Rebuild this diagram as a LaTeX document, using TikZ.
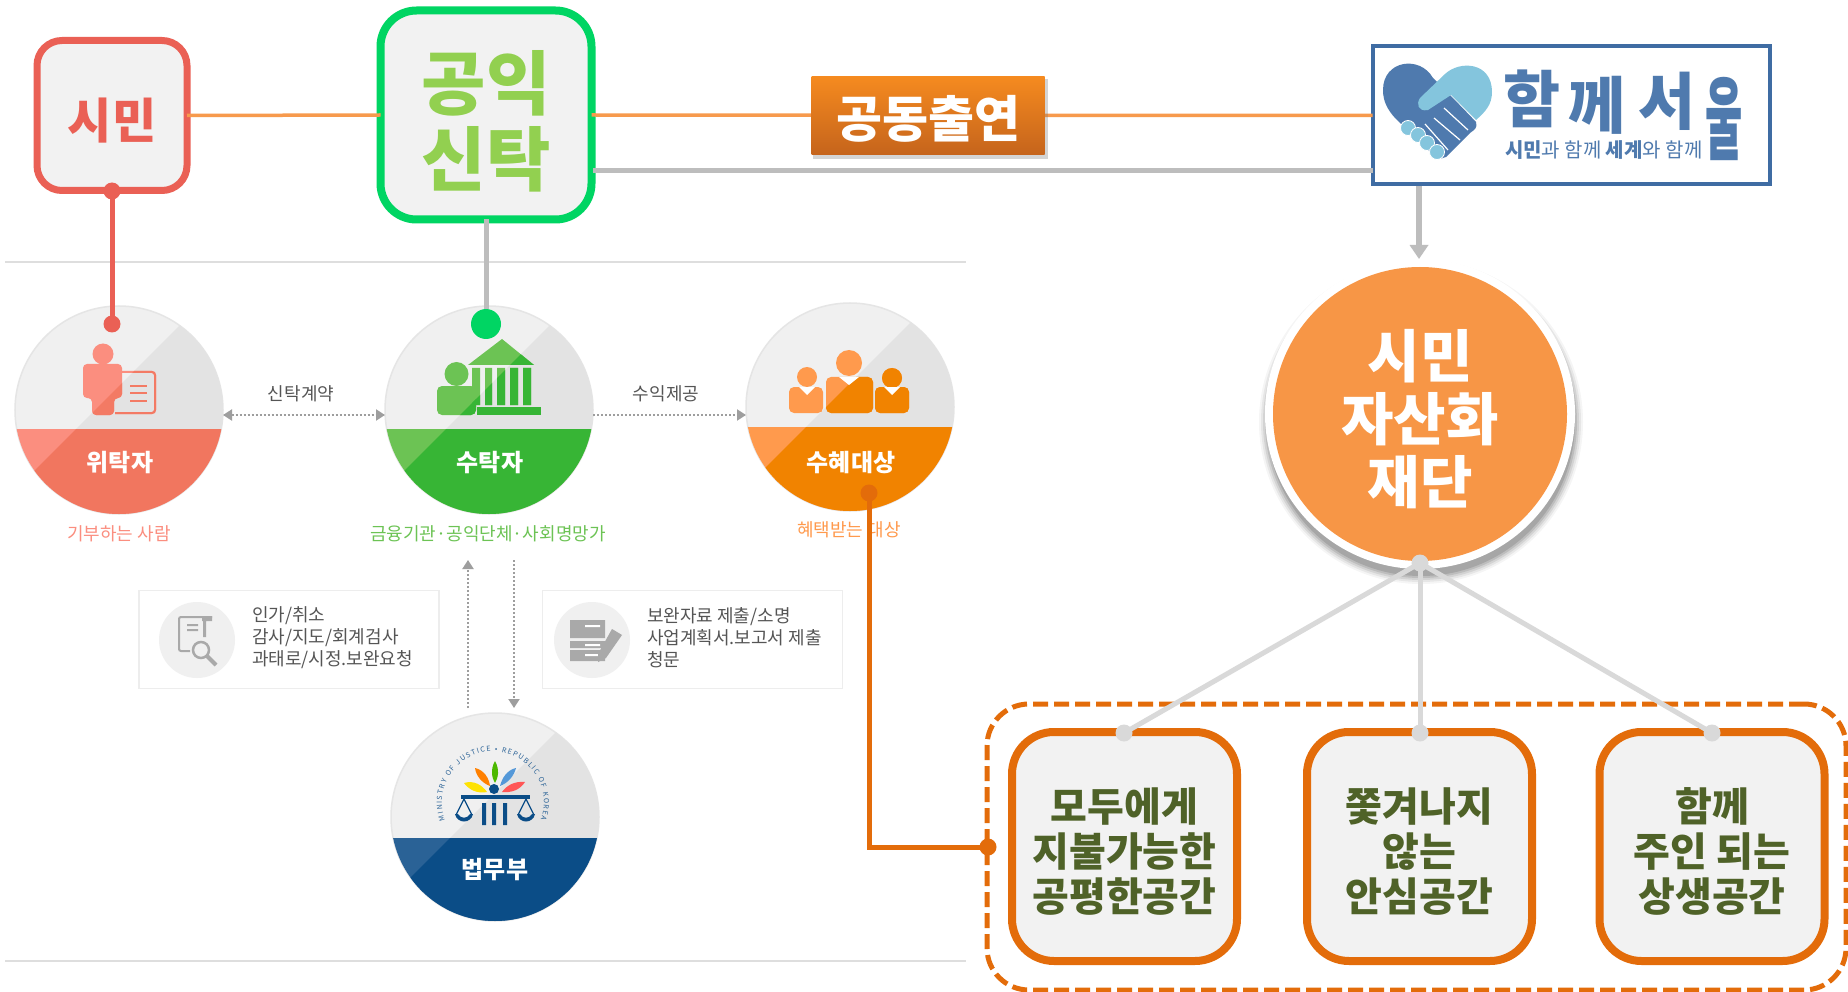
\documentclass[tikz,border=0pt]{standalone}
\usepackage{fontspec}
\setmainfont{Noto Sans CJK KR}
\usetikzlibrary{arrows.meta,decorations.text,shadings}
\definecolor{cred}{HTML}{EA6055}
\definecolor{cgreen}{HTML}{00D563}
\definecolor{corange}{HTML}{E36C0A}
\definecolor{cline}{HTML}{F79A4D}
\definecolor{cgray}{HTML}{BDBDBD}
\definecolor{cpale}{HTML}{D9D9D9}
\definecolor{cbox}{HTML}{F2F2F2}
\definecolor{cbig}{HTML}{F79646}
\definecolor{colive}{HTML}{4F6228}
\definecolor{csoft}{HTML}{92D050}
\definecolor{clogo}{HTML}{3F6CA3}
\definecolor{clogob}{HTML}{4F7AAE}
\definecolor{clogol}{HTML}{84C5DD}
\definecolor{rl}{HTML}{FB8E7F}\definecolor{rd}{HTML}{F1765F}
\definecolor{gl}{HTML}{6CC354}\definecolor{gd}{HTML}{37B535}
\definecolor{ol}{HTML}{FF9A4D}\definecolor{od}{HTML}{F18300}
\definecolor{bl}{HTML}{2A6296}\definecolor{bd}{HTML}{0B4D87}
\definecolor{ctxt}{HTML}{555555}
\definecolor{cicon}{HTML}{A9A9A9}
\definecolor{ctop}{HTML}{F58A1F}
\definecolor{cbot}{HTML}{C5641C}
\newcommand{\fsz}[2]{\fontsize{#1}{#2}\selectfont}
\tikzset{
  x=1pt,y=-1pt,
  every node/.style={inner sep=0pt,outer sep=0pt},
  badgecircle/.style={circle,minimum size=208,draw=black!10,line width=1.5pt},
  bandtext/.style={text=white,font=\fsz{24}{28}\bfseries},
  linktext/.style={text=ctxt,font=\fsz{18}{22}},
  infotext/.style={text=ctxt,font=\fsz{18}{22},align=left,anchor=west},
  sublabel/.style={font=\fsz{18}{22}},
  goalbox/.style={draw=corange,line width=8pt,fill=cbox,rounded corners=42pt,minimum width=225,minimum height=229},
  goaltext/.style={text=colive,font=\fsz{40}{45}\bfseries,align=center},
  topbox/.style={fill=cbox},
  infobox/.style={draw=black!7,line width=1.5pt,fill=white,minimum width=300,minimum height=98},
  infocirc/.style={circle,fill=black!6,minimum size=76},
  dotarrow/.style={dash pattern=on 2pt off 2pt,line width=2pt,draw=black!38,{Triangle[length=9pt,width=11pt,fill=black!38]}-{Triangle[length=9pt,width=11pt,fill=black!38]}},
  dotarrowr/.style={dash pattern=on 2pt off 2pt,line width=2pt,draw=black!38,-{Triangle[length=9pt,width=11pt,fill=black!38]}},
  dotpt/.style={circle,fill=#1,minimum size=17},
  rulel/.style={draw=black!13,line width=1.5pt},
}
% name, cx, cy, band y, light, dark
\newcommand{\badge}[6]{%
  \node[badgecircle,fill=black!6] (#1) at (#2,#3) {};
  \begin{scope}
    \clip (#2,#3) circle[radius=104];
    \fill[black!11] (#2+130,#3-154) -- (#2+220,#3+220) -- (#2-154,#3+130) -- cycle;
    \fill[#5] (#2-110,#4) rectangle (#2+110,#3+110);
    \clip (#2+130,#3-154) -- (#2+220,#3+220) -- (#2-154,#3+130) -- cycle;
    \fill[#6] (#2-110,#4) rectangle (#2+110,#3+110);
  \end{scope}%
}
\newcommand{\diagclip}[2]{\clip (#1+130,#2-154) -- (#1+220,#2+220) -- (#1-154,#2+130) -- cycle;}
\newcommand{\personshape}[1]{%
  \fill[#1] (103,354) circle[radius=10.5];
  \fill[#1,rounded corners=4pt] (83,398) -- (83,364) -- (122,364) -- (122,398) -- (114,398) -- (114,415) -- (92,415) -- (92,398) -- cycle;
  \draw[#1,line width=2pt,rounded corners=3pt] (122,372) -- (155,372) -- (155,413) -- (115,413);
  \draw[#1,line width=2pt] (130,386) -- (147,386) (130,393) -- (147,393) (130,401) -- (147,401);
}
\newcommand{\bankshape}[1]{%
  \fill[#1] (456.5,374) circle[radius=12];
  \fill[#1,rounded corners=5pt] (437,415) -- (437,386) -- (476,386) -- (476,415) -- cycle;
  \fill[#1] (502,339) -- (534,365) -- (468,365) -- cycle;
  \fill[#1] (472,368) rectangle (480,405) (485,368) rectangle (492,405) (497,368) rectangle (505,405) (510,368) rectangle (518,405) (523,368) rectangle (531,405);
  \fill[#1] (477,407) rectangle (541,415);
}
\newcommand{\peopleshape}[1]{%
  \fill[#1] (849,363) circle[radius=13];
  \fill[#1] (807,377) circle[radius=10];
  \fill[#1] (892,378) circle[radius=10];
  \fill[#1,rounded corners=5pt] (826,413) -- (826,377) -- (873,377) -- (873,413) -- cycle;
  \fill[#1,rounded corners=5pt] (789,413) -- (789,387) -- (823,387) -- (823,413) -- cycle;
  \fill[#1,rounded corners=5pt] (875,413) -- (875,387) -- (909,387) -- (909,413) -- cycle;
}
\begin{document}
\begin{tikzpicture}
\useasboundingbox (0,0) rectangle (1848,992);
\fill[white] (0,0) rectangle (1848,992);

% rules
\coordinate (ruleAa) at (5,262); \coordinate (ruleAb) at (966,262);
\coordinate (ruleBa) at (5,961); \coordinate (ruleBb) at (966,961);
\draw[rulel] (ruleAa) -- (ruleAb);
\draw[rulel] (ruleBa) -- (ruleBb);

% top nodes
\node[topbox,draw=cred,line width=7pt,rounded corners=25pt,minimum width=150,minimum height=150] (simin) at (112,115.5) {};
\node[text=cred,font=\fsz{48}{56}\bfseries] (simintext) at (112,120.5) {시민};
\node[topbox,draw=cgreen,line width=8pt,rounded corners=36pt,minimum width=211,minimum height=209] (gongik) at (486,115) {};
\node[text=csoft,font=\fsz{70}{76}\bfseries,align=center] (gongiktext) at (486,121.5) {공익\\신탁};
\node[draw=clogo,line width=4pt,fill=white,minimum width=397,minimum height=138] (logo) at (1571,115.5) {};
\coordinate (grayl) at (593,171);
\coordinate (grayr) at (logo.west |- 0,171);
\draw[cline,line width=3.5pt] (simin.east) -- (gongik.west);
\draw[cline,line width=3.5pt] (gongik.east) -- (logo.west);
\draw[cgray,line width=5pt] (grayl) -- (grayr);
\node[fill=black!55,opacity=.3,minimum width=235,minimum height=80] (jointshadow) at (930,119) {};
\node[top color=ctop,bottom color=cbot,minimum width=233,minimum height=78] (joint) at (928,116) {};
\node[text=white,font=\fsz{50}{54}\bfseries] (jointtext) at (928,119) {공동출연};

% logo drawing
\fill[clogob] (1383,90) .. controls (1383,60) and (1420,55) .. (1433,78) .. controls (1445,90) and (1460,105) .. (1476,122) .. controls (1478,128) and (1474,130) .. (1470,133) -- (1446,157) .. controls (1440,160) and (1436,158) .. (1430,152) -- (1395,118) .. controls (1388,110) and (1383,102) .. (1383,90) -- cycle;
\fill[clogol] (1420,98) -- (1445,74) .. controls (1460,60) and (1492,62) .. (1492,92) .. controls (1492,105) and (1485,112) .. (1476,120) -- (1451,95) -- (1428,110) .. controls (1418,112) and (1416,104) .. (1420,98) -- cycle;
\draw[white,line width=1.2pt] (1444,108) -- (1468,130) (1434,118) -- (1460,140) (1425,124) -- (1448,150);
\foreach \fx/\fy in {1408/128,1418/135,1427/143,1437/152} {\fill[clogol,draw=white,line width=.8pt] (\fx,\fy) circle[radius=7.5];}
\node[text=clogob,font=\fsz{62}{64}\bfseries,anchor=base west] (logotitle) at (1503,123) {함\hspace{8pt}\raisebox{-6pt}{께}\hspace{13pt}\raisebox{-2pt}{서}\hspace{10pt}\raisebox{-30pt}{\scalebox{.45}[1]{\fsz{90}{90}울}}};
\node[text=clogob,font=\fsz{20}{24},anchor=west] (logosub) at (1505,150) {\textbf{시민}과 함께 \textbf{세계}와 함께};

% badges
\badge{wi}{119}{410}{429}{rl}{rd}
\badge{su}{489}{410}{429}{gl}{gd}
\badge{hye}{850}{407}{427}{ol}{od}
\badge{moj}{495}{817}{838}{bl}{bd}

% icons
\personshape{rl}
\begin{scope}\diagclip{119}{410}\clip (0,300) rectangle (300,428);\personshape{rd!85!rl}\end{scope}
\bankshape{gl}
\begin{scope}\diagclip{489}{410}\clip (380,300) rectangle (600,428);\bankshape{gd}\end{scope}
\peopleshape{ol}
\begin{scope}\diagclip{850}{407}\clip (740,300) rectangle (960,426);\peopleshape{od}\end{scope}

% people notches
\foreach \nx/\ny/\nw in {849/377/10,807/387/8,892/387/8} {\fill[white] (\nx-\nw,\ny) -- (\nx+\nw,\ny) -- (\nx,\ny+8) -- cycle;}

% MOJ seal
\path[decorate,decoration={text along path,text color=bl,text={|\fsz{7}{8}|MINISTRY OF JUSTICE • REPUBLIC OF KOREA},text align=fit to path}] (445,820) arc[start angle=160,end angle=380,radius=51];
\fill[bd] (494,789) circle[radius=5];
\fill[bd] (461,795) rectangle (530,799);
\fill[bd] (482,803) rectangle (486,825) (492,803) rectangle (496,825) (503,803) rectangle (507,825);
\draw[bd,line width=1.2pt] (464,799) -- (456,815) (464,799) -- (472,815) (526,799) -- (518,815) (526,799) -- (534,815);
\fill[bd] (455,814) .. controls (457,824) and (471,824) .. (473,814) -- (470,814) .. controls (467,819) and (461,819) .. (458,814) -- cycle;
\fill[bd] (517,814) .. controls (519,824) and (533,824) .. (535,814) -- (532,814) .. controls (529,819) and (523,819) .. (520,814) -- cycle;
\fill[green!60!black!70!yellow] (495,761) .. controls (500,770) and (498,778) .. (495,783) .. controls (492,778) and (490,770) .. (495,761) -- cycle;
\fill[orange] (475,768) .. controls (484,770) and (489,778) .. (490,786) .. controls (482,783) and (476,776) .. (475,768) -- cycle;
\fill[yellow!85!orange] (464,783) .. controls (474,780) and (482,785) .. (487,792) .. controls (478,794) and (469,790) .. (464,783) -- cycle;
\fill[cyan!60!blue!70] (516,768) .. controls (507,770) and (502,778) .. (500,786) .. controls (508,783) and (514,776) .. (516,768) -- cycle;
\fill[red!55!pink] (525,782) .. controls (515,781) and (507,785) .. (502,792) .. controls (511,793) and (520,790) .. (525,782) -- cycle;

% badge labels
\node[bandtext] (wil) at (120,463) {위탁자};
\node[bandtext] (sul) at (490,463) {수탁자};
\node[bandtext] (hyel) at (851,463) {수혜대상};
\node[bandtext] (mojl) at (495,870) {법무부};
\node[sublabel,text=rl] (wis) at (119,534) {기부하는 사람};
\node[sublabel,text=gl] (sus) at (488,534) {금융기관·공익단체·사회명망가};
\node[sublabel,text=ol] (hyes) at (849,530) {혜택받는 대상};

% dotted links
\draw[dotarrow] (wi.east |- 0,415) -- (su.west |- 0,415);
\node[linktext] (contract) at (301,394) {신탁계약};
\draw[dotarrowr] (su.east |- 0,415) -- (hye.west |- 0,415);
\node[linktext] (benefit) at (666,394) {수익제공};

% info boxes
\node[infobox] (infoA) at (289,639.5) {};
\node[infobox] (infoB) at (692.5,639.5) {};
\node[infocirc] (circA) at (197,640) {};
\node[infocirc] (circB) at (592,640) {};
\node[infotext] (txtA) at (252,638) {인가/취소\\감사/지도/회계검사\\과태로/시정.보완요청};
\node[infotext] (txtB) at (647,638) {보완자료 제출/소명\\사업계획서.보고서 제출\\청문};
\coordinate (upa) at (468,708); \coordinate (upb) at (468,560);
\coordinate (dna) at (514,560); \coordinate (dnb) at (514,708);
\draw[dotarrowr] (upa) -- (upb);
\draw[dotarrowr] (dna) -- (dnb);

% info icons
\draw[cicon,line width=2pt,rounded corners=2pt] (212,617) -- (179,617) -- (179,651) -- (190,651);
\fill[cicon] (202,616) rectangle (212,621) (203,616) rectangle (206,637);
\fill[cicon] (187,624) rectangle (198,626) (187,629) rectangle (198,631);
\draw[cicon,line width=2.5pt] (201,650) circle[radius=8];
\draw[cicon,line width=4pt] (207,656) -- (216,665);
\fill[cicon] (570,620) rectangle (605,638) (570,641) rectangle (605,648) (570,650) rectangle (605,661);
\fill[white] (585,625) rectangle (600,627) (585,644) rectangle (600,646) (585,654) rectangle (600,656);
\fill[cicon] (612,629) -- (622,635) -- (606,658) -- (598,662) -- (598,654) -- cycle;

% seoul foundation
\foreach \k/\o in {9/.04,7/.06,5/.08,3/.1,1/.12} {\fill[black,opacity=\o] (1421,422) circle[radius=153+\k];}
\node[circle,fill=white,minimum size=310] (ring) at (1420,414) {};
\node[circle,fill=cbig,minimum size=294] (found) at (1420,414) {};
\node[text=white,align=center,font=\fsz{57}{63}\bfseries] (foundtext) at (1420,419) {시민\\자산화\\재단};
\coordinate (logodrop) at (1419,186);
\draw[cgray,line width=6pt,-{Triangle[length=14pt,width=18pt,fill=cgray]}] (logodrop) -- (ring.north -| logodrop);

% goal group
\node[draw=corange,dash pattern=on 15pt off 6pt,line width=5pt,rounded corners=42pt,minimum width=859,minimum height=286] (group) at (1416.5,847) {};
\node[goalbox] (goalA) at (1124.5,846.5) {};
\node[goalbox] (goalB) at (1419.5,846.5) {};
\node[goalbox] (goalC) at (1712,846.5) {};
\node[goaltext] (goalAt) at (1124.5,851.5) {모두에게\\지불가능한\\공평한공간};
\node[goaltext] (goalBt) at (1419.5,851.5) {쫓겨나지\\않는\\안심공간};
\node[goaltext] (goalCt) at (1712,851.5) {함께\\주인 되는\\상생공간};
\node[dotpt=cpale] (hub) at (1420,563) {};
\node[dotpt=cpale] (topA) at (1124,733) {};
\node[dotpt=cpale] (topB) at (1420,733) {};
\node[dotpt=cpale] (topC) at (1712,733) {};
\draw[cpale,line width=5pt] (hub.center) -- (topA.center);
\draw[cpale,line width=5pt] (hub.center) -- (topB.center);
\draw[cpale,line width=5pt] (hub.center) -- (topC.center);

% connectors to badges
\node[dotpt=cred] (redtop) at (112,191) {};
\node[dotpt=cred] (redbot) at (112,324) {};
\draw[cred,line width=5pt] (redtop.center) -- (redbot.center);
\node[circle,fill=cgreen,minimum size=30] (greendot) at (486,324) {};
\draw[cgray,line width=5pt] (gongik.south -| greendot) -- (greendot.north);
\node[dotpt=corange] (ordot) at (869,493) {};
\node[dotpt=corange] (grdot) at (988,847) {};
\draw[corange,line width=5pt] (ordot.center) |- (grdot.center);
\end{tikzpicture}
\end{document}
